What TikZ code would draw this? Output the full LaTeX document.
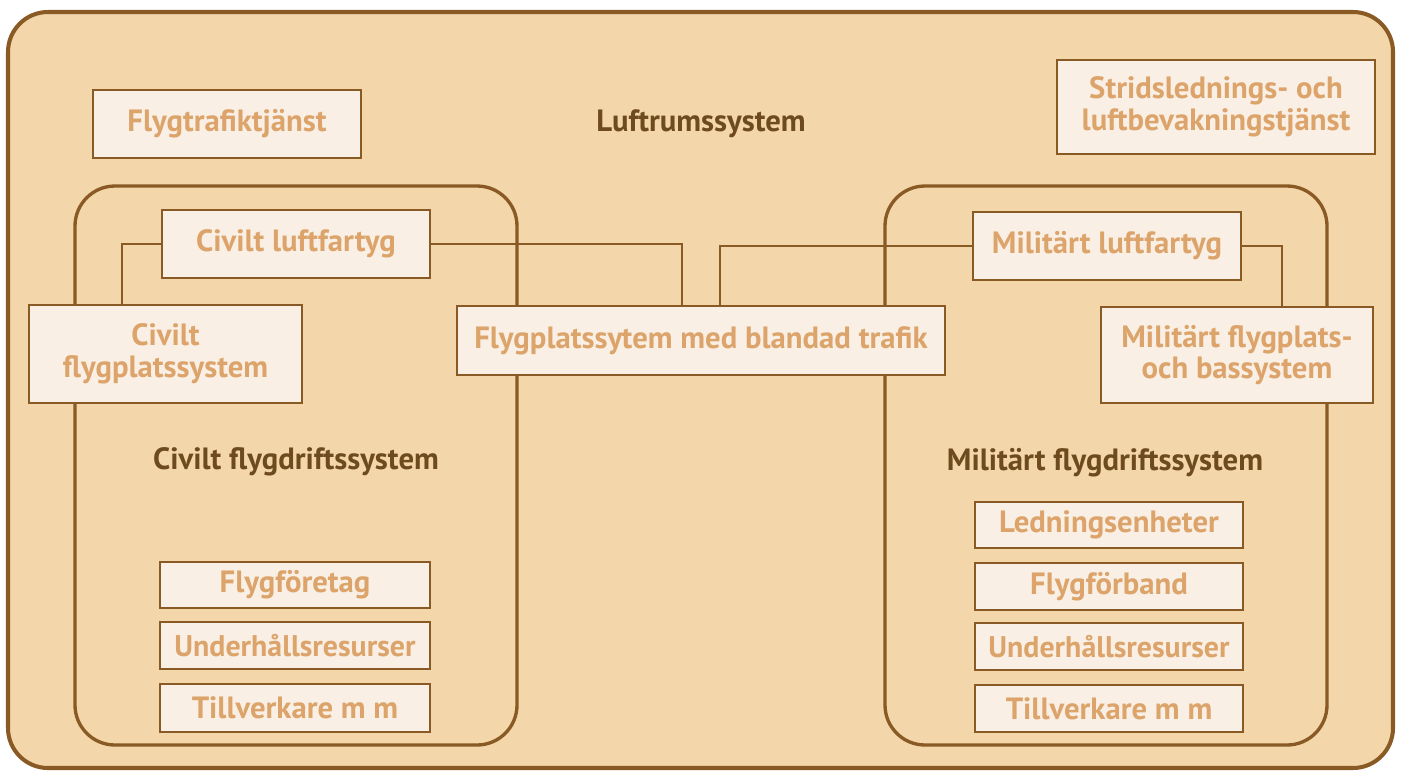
\documentclass[tikz,border=0pt]{standalone}
\usepackage{fontspec}
\setmainfont{PT Sans}
\definecolor{frame}{HTML}{8A5A24}
\definecolor{ground}{HTML}{F3D6AA}
\definecolor{paper}{HTML}{F9EFE4}
\definecolor{lighttext}{HTML}{DCA46A}
\definecolor{darktext}{HTML}{6E4B1E}
\tikzset{
  sysbox/.style={draw=frame, line width=1.6pt, fill=paper, text=lighttext,
    font=\bfseries\fontsize{17.5}{18}\selectfont, align=center, inner sep=0pt},
  narrowtext/.style={font=\bfseries\fontsize{17}{18}\selectfont},
  sz/.style 2 args={minimum width={#1*0.02cm}, minimum height={#2*0.02cm}},
  grouplabel/.style={text=darktext, font=\bfseries\fontsize{17.5}{18}\selectfont},
  link/.style={draw=frame, line width=1.3pt},
  area/.style={draw=frame, line width=1.9pt, rounded corners=0.8cm}
}
\begin{document}
\begin{tikzpicture}[x=0.02cm, y=-0.02cm]
\useasboundingbox (0,0) rectangle (1403,772);
% airspace system frame
\path[draw=frame, line width=2.3pt, fill=ground, rounded corners=0.8cm] (8,12) rectangle (1393,768);
% civil and military flight operation systems
\draw[area] (75,186) rectangle (517,745);
\draw[area] (885,186) rectangle (1327,745);

\node[grouplabel] (luftrum) at (701,124) {Luftrumssystem};
\node[grouplabel] (civdrift) at (296,462) {Civilt flygdriftssystem};
\node[grouplabel] (mildrift) at (1105,463) {Militärt flygdriftssystem};

% routing columns for the connectors
\coordinate (k1) at (122,0);
\coordinate (k2) at (682,0);
\coordinate (k3) at (720,0);
\coordinate (k4) at (1282,0);

\node[sysbox, sz={268}{68}] (atc) at (227,124) {Flygtrafiktjänst};
\node[sysbox, sz={318}{94}] (strid) at (1216,107) {Stridslednings- och\\luftbevakningstjänst};

\node[sysbox, sz={268}{68}] (civluft) at (296,244) {Civilt luftfartyg};
\node[sysbox, sz={273}{98}] (civplats) at (165.5,354) {Civilt\\flygplatssystem};
\node[sysbox, sz={488}{69}] (blandad) at (701,340.5) {Flygplatssytem med blandad trafik};
\node[sysbox, sz={268}{68}] (milluft) at (1107,246) {Militärt luftfartyg};
\node[sysbox, sz={272}{96}] (milplats) at (1237,355) {Militärt flygplats-\\och bassystem};

% connectors
\draw[link] (civluft.west) -| (k1 |- civplats.north);
\draw[link] (civluft.east) -| (k2 |- blandad.north);
\draw[link] (milluft.west) -| (k3 |- blandad.north);
\draw[link] (milluft.east) -| (k4 |- milplats.north);

% civil resources
\node[sysbox, sz={270}{46}] (civforetag) at (295,585) {Flygföretag};
\node[sysbox, narrowtext, sz={270}{47}] (civunderhall) at (295,645.5) {Underhållsresurser};
\node[sysbox, sz={270}{48}] (civtillv) at (295,708) {Tillverkare m m};

% military resources
\node[sysbox, sz={268}{46}] (milledning) at (1109,525) {Ledningsenheter};
\node[sysbox, sz={268}{47}] (milforband) at (1109,586.5) {Flygförband};
\node[sysbox, narrowtext, sz={268}{47}] (milunderhall) at (1109,646.5) {Underhållsresurser};
\node[sysbox, sz={268}{47}] (miltillv) at (1109,708.5) {Tillverkare m m};
\end{tikzpicture}
\end{document}
